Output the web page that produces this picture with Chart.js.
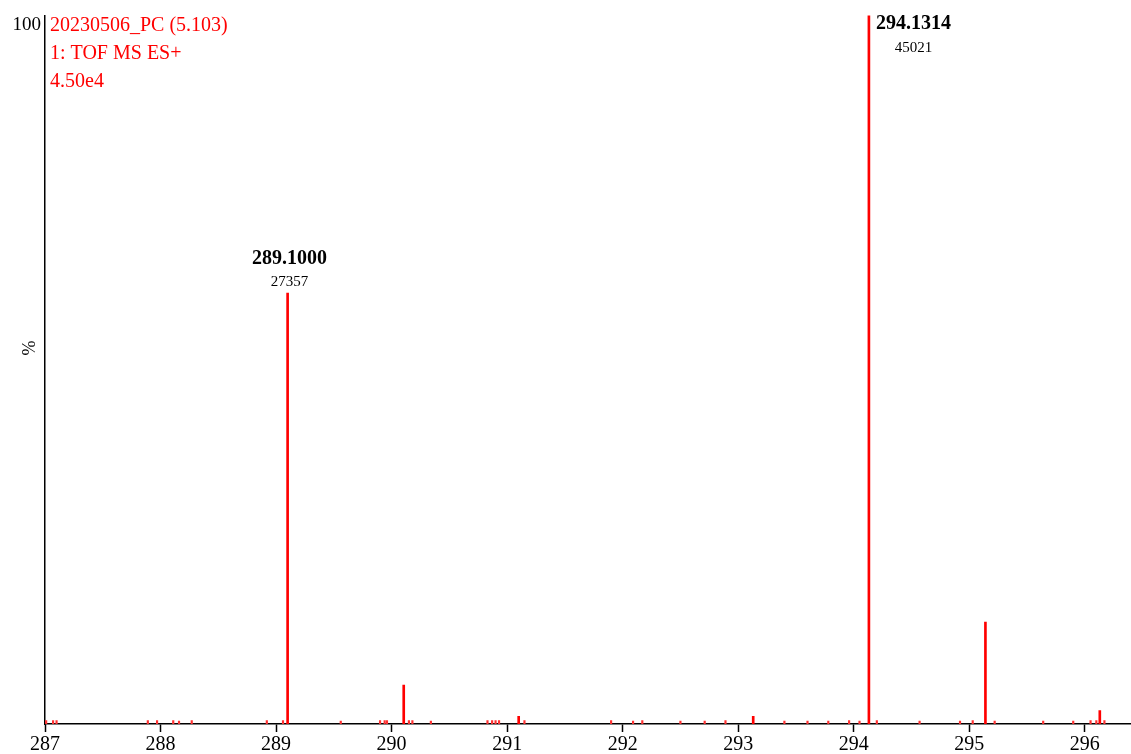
<!DOCTYPE html>
<html lang="en">
<head>
    <meta charset="UTF-8">
    <title>TOF MS ES+ spectrum</title>
    <script src="https://cdn.jsdelivr.net/npm/chart.js"></script>
    <style>
        body { margin: 0; background: #fff; }
        #wrap { width: 1131px; height: 754px; }
    </style>
</head>
<body>
    <div id="wrap"><canvas id="msChart"></canvas></div>

    <script>
        // spectrum header text
        var headerLines = ['20230506_PC (5.103)', '1: TOF MS ES+', '4.50e4'];

        // main peaks: m/z and relative intensity (%)
        var peakMz = [289.100, 290.105, 291.10, 293.13, 294.1314, 295.14, 296.13];
        var peakPct = [60.8, 5.5, 1.1, 1.1, 100, 14.4, 1.9];

        // labelled peaks
        var labelMz = [289.1000, 294.1314];
        var labelText = ['289.1000', '294.1314'];
        var labelCounts = ['27357', '45021'];

        // small noise peaks along the baseline
        var noiseMz = [287.01, 287.07, 287.10, 287.89, 287.97, 288.11, 288.16, 288.27, 288.92, 289.06, 289.56,
            289.90, 289.94, 289.96, 290.15, 290.18, 290.34, 290.83, 290.87, 290.90, 290.93, 291.15,
            291.90, 292.09, 292.17, 292.50, 292.71, 292.89, 293.40, 293.60, 293.78, 293.96, 294.05,
            294.20, 294.57, 294.92, 295.03, 295.22, 295.64, 295.90, 296.05, 296.10, 296.17];
        var noisePct = [0.5, 0.5, 0.5, 0.5, 0.5, 0.5, 0.4, 0.5, 0.5, 0.5, 0.4,
            0.5, 0.5, 0.5, 0.5, 0.5, 0.4, 0.5, 0.5, 0.5, 0.5, 0.5,
            0.5, 0.4, 0.5, 0.4, 0.4, 0.5, 0.4, 0.4, 0.4, 0.5, 0.4,
            0.5, 0.4, 0.4, 0.5, 0.4, 0.4, 0.4, 0.5, 0.5, 0.5];

        // x axis tick labels
        var xTicks = [287, 288, 289, 290, 291, 292, 293, 294, 295, 296];

        var serif = '"Liberation Serif", "Times New Roman", serif';

        var mainData = peakMz.map(function (m, i) { return { x: m, y: peakPct[i] }; });
        var noiseData = noiseMz.map(function (m, i) { return { x: m, y: noisePct[i] }; });

        // header text, % label and peak annotations
        var annotate = {
            id: 'annotate',
            afterDatasetsDraw: function (chart) {
                var ctx = chart.ctx;
                var area = chart.chartArea;
                var xs = chart.scales.x, ys = chart.scales.y;
                ctx.save();
                ctx.textBaseline = 'middle';

                ctx.fillStyle = '#ff0000';
                ctx.font = '20px ' + serif;
                ctx.textAlign = 'left';
                headerLines.forEach(function (t, i) {
                    ctx.fillText(t, area.left + 5, area.top + 10 + i * 28);
                });

                ctx.fillStyle = '#000';
                ctx.font = '18px ' + serif;
                ctx.translate(30, 348);
                ctx.rotate(-Math.PI / 2);
                ctx.textAlign = 'center';
                ctx.fillText('%', 0, 0);
                ctx.setTransform(1, 0, 0, 1, 0, 0);

                labelMz.forEach(function (m, i) {
                    var idx = peakMz.indexOf(m);
                    var px = xs.getPixelForValue(m);
                    var top = ys.getPixelForValue(peakPct[idx]);
                    ctx.font = 'bold 20px ' + serif;
                    var w = ctx.measureText(labelText[i]).width;
                    var cx = px + 2, y1 = top - 34, y2 = top - 11;
                    if (y1 < area.top + 5) {
                        cx = px + 7 + w / 2;
                        y1 = top + 8;
                        y2 = top + 33;
                    }
                    ctx.textAlign = 'center';
                    ctx.fillText(labelText[i], cx, y1);
                    ctx.font = '15px ' + serif;
                    ctx.fillText(labelCounts[i], cx, y2);
                });
                ctx.restore();
            }
        };

        var ctx = document.getElementById('msChart').getContext('2d');
        var msChart = new Chart(ctx, {
            type: 'bar',
            data: {
                datasets: [{
                    label: 'peaks',
                    data: mainData,
                    backgroundColor: '#ff0000',
                    barThickness: 2,
                    grouped: false
                }, {
                    label: 'noise',
                    data: noiseData,
                    backgroundColor: '#ff3030',
                    barThickness: 1.5,
                    grouped: false
                }]
            },
            options: {
                responsive: true,
                maintainAspectRatio: false,
                animation: false,
                layout: { padding: { top: 15, right: 0, left: 0, bottom: 0 } },
                plugins: {
                    legend: { display: false },
                    tooltip: { enabled: false }
                },
                scales: {
                    x: {
                        type: 'linear',
                        min: 287,
                        max: 296.4,
                        offset: false,
                        afterBuildTicks: function (axis) {
                            axis.ticks = xTicks.map(function (v) { return { value: v }; });
                        },
                        afterFit: function (axis) { axis.height = 30; },
                        grid: {
                            offset: false,
                            drawOnChartArea: false,
                            color: '#000',
                            tickLength: 8,
                            tickWidth: 1.5
                        },
                        border: { color: '#000', width: 1.5 },
                        ticks: {
                            color: '#000',
                            padding: 1,
                            maxRotation: 0,
                            autoSkip: false,
                            font: { family: serif, size: 20 }
                        }
                    },
                    y: {
                        min: 0,
                        max: 100,
                        afterBuildTicks: function (axis) {
                            axis.ticks = [{ value: 100 }];
                        },
                        afterFit: function (axis) { axis.width = 45; },
                        grid: { display: false, drawTicks: false, tickLength: 0 },
                        border: { color: '#000', width: 1.5 },
                        ticks: {
                            color: '#000',
                            padding: 4,
                            labelOffset: 10,
                            font: { family: serif, size: 19 }
                        }
                    }
                }
            },
            plugins: [annotate]
        });
    </script>
</body>
</html>
